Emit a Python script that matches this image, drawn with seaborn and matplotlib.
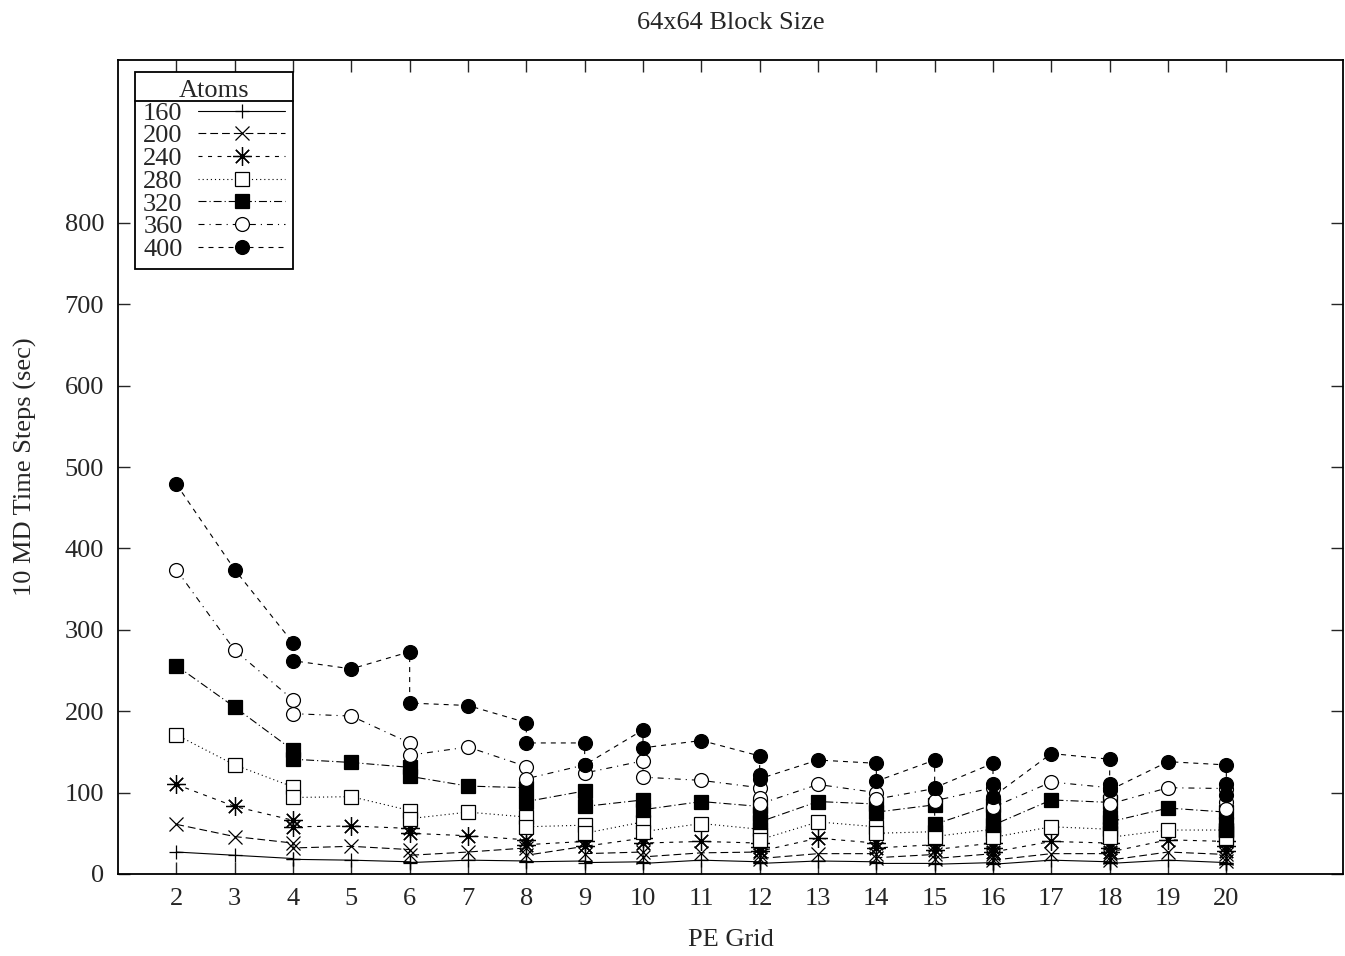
import pandas as pd
import seaborn as sns
import matplotlib.pyplot as plt
from matplotlib.lines import Line2D

# PE grid sizes (several grid shapes share one size)
pe_grid = [2, 3, 4, 4, 5, 6, 6, 7, 8, 8, 9, 9, 10, 10, 11, 12, 12, 12, 13,
           14, 14, 15, 15, 16, 16, 16, 17, 18, 18, 18, 19, 20, 20, 20]

# time for 10 MD steps (sec), one list per atom count
t160 = [27, 23, 19, 18, 17, 15, 14, 17, 16, 15, 16, 14, 15, 13, 17, 15, 14, 13, 16,
        15, 13, 13, 12, 14, 13, 12, 17, 15, 14, 13, 17, 14, 13, 12]
t200 = [61, 46, 38, 32, 34, 30, 23, 27, 32, 23, 34, 25, 27, 21, 26, 27, 23, 19, 25,
        25, 20, 24, 19, 25, 21, 17, 25, 25, 21, 17, 27, 24, 20, 16]
t240 = [110, 83, 66, 58, 59, 56, 50, 47, 42, 36, 40, 34, 44, 38, 40, 38, 33, 28, 44,
        38, 32, 36, 30, 38, 32, 27, 40, 38, 32, 27, 42, 40, 34, 28]
t280 = [171, 134, 107, 94, 95, 78, 68, 76, 70, 58, 60, 50, 64, 52, 62, 55, 48, 42, 64,
        58, 50, 52, 46, 55, 50, 45, 58, 55, 50, 45, 54, 54, 50, 44]
t320 = [256, 205, 152, 141, 137, 131, 120, 108, 106, 89, 102, 83, 91, 79, 89, 83, 74, 64, 89,
        86, 76, 85, 61, 85, 72, 60, 91, 88, 70, 64, 81, 76, 62, 54]
t360 = [374, 275, 214, 197, 194, 161, 146, 156, 132, 117, 134, 124, 139, 119, 115, 106, 93, 86, 110,
        100, 92, 105, 90, 106, 92, 82, 113, 106, 95, 86, 106, 105, 88, 80]
t400 = [479, 374, 284, 262, 252, 273, 210, 207, 186, 161, 161, 134, 177, 155, 164, 145, 122, 117, 140,
        136, 114, 140, 106, 136, 110, 95, 148, 141, 110, 103, 138, 134, 111, 97]

atoms = ['160', '200', '240', '280', '320', '360', '400']
series = [t160, t200, t240, t280, t320, t360, t400]

styles = {
    '160': dict(marker='+', linestyle='-', mfc='black', ms=10.5),
    '200': dict(marker='x', linestyle=(0, (7, 3.6)), mfc='black', ms=10),
    '240': dict(marker=(8, 2, 0), linestyle=(0, (3.6, 5)), mfc='black', ms=13.5),
    '280': dict(marker='s', linestyle=(0, (1, 2.7)), mfc='white', ms=9.8),
    '320': dict(marker='s', linestyle=(0, (7.2, 2.7, 1, 2.7)), mfc='black', ms=9.8),
    '360': dict(marker='o', linestyle=(0, (5.4, 4.5, 1, 4.5)), mfc='white', ms=10),
    '400': dict(marker='o', linestyle=(0, (4.5, 4.5)), mfc='black', ms=10),
}

sns.set_style('ticks')
plt.rcParams['font.family'] = ['Liberation Serif', 'DejaVu Serif']
fs = 19

fig = plt.figure(figsize=(13.45, 9.56), dpi=100)
ax = fig.add_axes([118/1345, 82/956, 1225/1345, 814/956])

for name, vals in zip(atoms, series):
    df = pd.DataFrame({'pe': pe_grid, 'time': vals})
    st = styles[name]
    sns.lineplot(data=df, x='pe', y='time', ax=ax, sort=False, estimator=None,
                 color='black', lw=0.8, marker=st['marker'], linestyle=st['linestyle'],
                 markersize=st['ms'], markerfacecolor=st['mfc'], markeredgecolor='black',
                 markeredgewidth=0.9, label=name)

ax.set_xlim(1, 22)
ax.set_ylim(0, 1000)
ax.set_xticks(range(2, 21))
ax.set_yticks(range(0, 801, 100))
ax.tick_params(direction='in', length=8.5, width=1, labelsize=fs, pad=10,
               top=True, right=True)
for s in ax.spines.values():
    s.set_linewidth(1.3)
    s.set_color('black')

ax.set_title('64x64 Block Size', fontsize=fs, pad=22)
ax.set_xlabel('PE Grid', fontsize=fs, labelpad=14)
ax.set_ylabel('10 MD Time Steps (sec)', fontsize=fs, labelpad=20)

leg = ax.legend(title='Atoms', loc='upper left', bbox_to_anchor=(0.0139, 0.985),
                borderaxespad=0, markerfirst=False, fontsize=fs, title_fontsize=fs,
                handlelength=3.3, handletextpad=0.6, labelspacing=-0.03,
                borderpad=0.3, fancybox=False, framealpha=1, edgecolor='black')
leg.get_frame().set_linewidth(1.3)
leg.set_zorder(10)

# separator line under the legend title, as in the original
fig.canvas.draw()
lb = leg.get_window_extent()
tb = leg.get_title().get_window_extent()
inv = fig.transFigure.inverted()
(x0, y0) = inv.transform((lb.x0, tb.y0 + 1))
(x1, _) = inv.transform((lb.x1, tb.y0 + 1))
fig.add_artist(Line2D([x0, x1], [y0, y0], color='black', lw=1.3, zorder=11))

fig.savefig('out.png', dpi=100)
